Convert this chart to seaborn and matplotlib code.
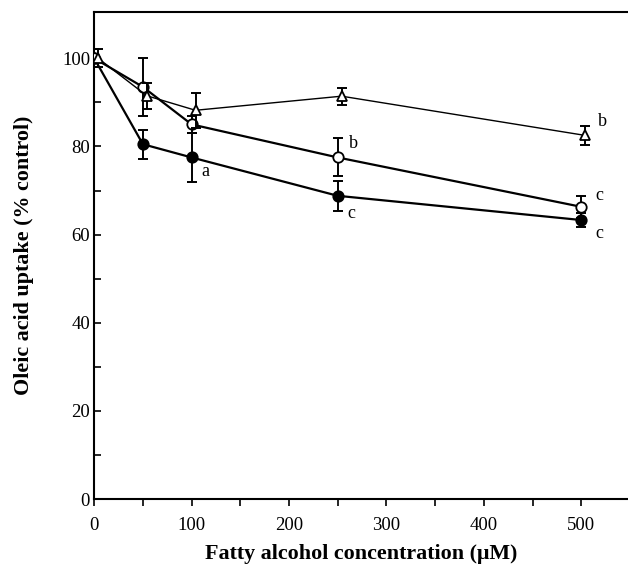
import matplotlib
matplotlib.use("Agg")
import matplotlib.pyplot as plt
import numpy as np
import pandas as pd
import seaborn as sns

# Fatty alcohol concentration (µM)
dose = [0, 50, 100, 250, 500]

# Oleic acid uptake (% control), mean and error per treatment
filled_mean = [100, 80.5, 77.5, 68.8, 63.3]
filled_err = [2.0, 3.3, 5.5, 3.4, 1.5]

open_mean = [100, 93.5, 85.0, 77.5, 66.3]
open_err = [2.0, 6.5, 2.0, 4.3, 2.5]

tri_mean = [100, 91.5, 88.2, 91.4, 82.5]
tri_err = [2.0, 3.0, 4.0, 1.9, 2.1]

# significance letters: (series, dose, letter)
letters = [
    ("filled", 100, "a"),
    ("filled", 250, "c"),
    ("filled", 500, "c"),
    ("open", 250, "b"),
    ("open", 500, "c"),
    ("tri", 500, "b"),
]

x_ticks = [0, 100, 200, 300, 400, 500]
y_ticks = [0, 20, 40, 60, 80, 100]

sns.set_theme(style="ticks")
plt.rcParams["font.family"] = ["Liberation Serif", "DejaVu Serif"]
plt.rcParams["mathtext.fontset"] = "stix"
plt.rcParams["text.color"] = "black"
plt.rcParams["axes.labelcolor"] = "black"

series = {
    "filled": dict(mean=filled_mean, err=filled_err, marker="o", mfc="black",
                   lw=1.6, dodge=0.0, z=3),
    "open": dict(mean=open_mean, err=open_err, marker="o", mfc="white",
                 lw=1.6, dodge=0.0, z=4),
    "tri": dict(mean=tri_mean, err=tri_err, marker="^", mfc="white",
                lw=1.0, dodge=4.0, z=5),
}

rows = []
for name, s in series.items():
    for d, m, e in zip(dose, s["mean"], s["err"]):
        rows.append(dict(series=name, dose=d + s["dodge"], uptake=m, err=e))
df = pd.DataFrame(rows)

fig = plt.figure(figsize=(6.28, 5.71), dpi=100)
ax = fig.add_axes([0.150, 0.126, 0.850, 0.853])

for name, s in series.items():
    sub = df[df["series"] == name]
    ax.errorbar(sub["dose"], sub["uptake"], yerr=sub["err"], fmt="none",
                ecolor="black", elinewidth=1.4, capsize=3.5, capthick=1.4,
                zorder=s["z"] - 0.5)
    sns.lineplot(data=sub, x="dose", y="uptake", ax=ax, color="black",
                 linewidth=s["lw"], marker=s["marker"], markersize=7.5,
                 markerfacecolor=s["mfc"], markeredgecolor="black",
                 markeredgewidth=1.3, zorder=s["z"], legend=False,
                 estimator=None, sort=False)

offsets = {
    ("filled", 100): (7, -10),
    ("filled", 250): (7, -13),
    ("filled", 500): (10, -10),
    ("open", 250): (8, 10),
    ("open", 500): (10, 8),
    ("tri", 500): (9, 10),
}
for name, d, lab in letters:
    s = series[name]
    i = dose.index(d)
    ax.annotate(lab, xy=(d + s["dodge"], s["mean"][i]),
                xytext=offsets[(name, d)], textcoords="offset points",
                ha="left", va="center", fontsize=13, color="black")

ax.set_xlim(0, 548)
ax.set_ylim(0, 110.5)
ax.set_xticks(x_ticks)
ax.set_xticks(np.arange(50, 550, 100), minor=True)
ax.set_yticks(y_ticks)
ax.set_yticks(np.arange(10, 110, 20), minor=True)

ax.tick_params(axis="x", which="both", direction="out", length=5, width=1.2,
               labelsize=13.5, pad=8, colors="black")
ax.tick_params(axis="y", which="both", direction="in", length=5, width=1.2,
               labelsize=13.5, pad=3, colors="black")

for side in ("left", "bottom", "top"):
    ax.spines[side].set_linewidth(1.5)
    ax.spines[side].set_color("black")
ax.spines["right"].set_visible(False)

ax.set_xlabel("Fatty alcohol concentration (μM)", fontsize=15.8,
              fontweight="bold", labelpad=7, color="black")
ax.set_ylabel("Oleic acid uptake (% control)", fontsize=15.8,
              fontweight="bold", labelpad=20, color="black")
ax.grid(False)

fig.savefig("out.png", dpi=100)
